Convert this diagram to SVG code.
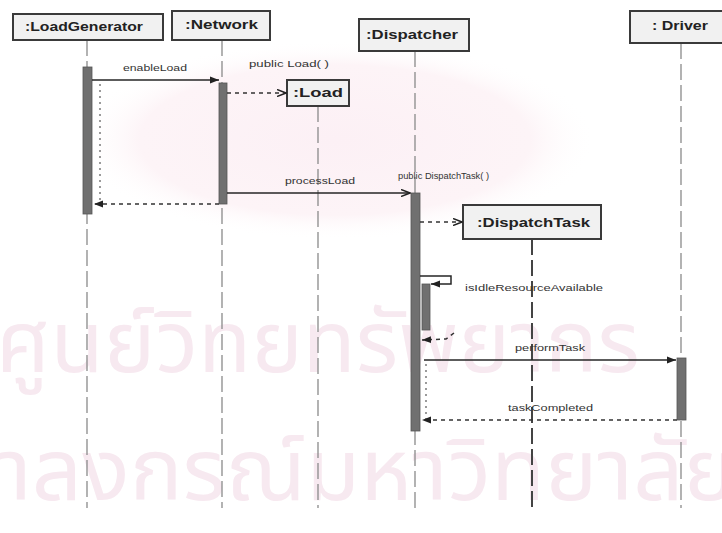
<svg xmlns="http://www.w3.org/2000/svg" width="722" height="533" viewBox="0 0 722 533">
  <defs>
    <radialGradient id="emblem" cx="0.5" cy="0.5" r="0.5">
      <stop offset="0" stop-color="#fcf0f5"/>
      <stop offset="0.75" stop-color="#fdf4f7"/>
      <stop offset="1" stop-color="#ffffff" stop-opacity="0"/>
    </radialGradient>
    <marker id="solid" markerWidth="10" markerHeight="8" refX="9" refY="4" orient="auto" markerUnits="userSpaceOnUse">
      <path d="M0,0.5 L9,4 L0,7.5 Z" fill="#222"/>
    </marker>
    <marker id="open" markerWidth="10" markerHeight="8" refX="9" refY="4" orient="auto" markerUnits="userSpaceOnUse">
      <path d="M0,0.5 L9,4 L0,7.5" fill="none" stroke="#222" stroke-width="1.5"/>
    </marker>
  </defs>
  <style>
    .obj rect { fill: #f1f1f1; stroke: #3a3a3a; stroke-width: 2; }
    .obj text { font-family: "Liberation Sans", Arial, sans-serif; font-weight: bold; font-size: 12.5px; fill: #222; }
    .life { stroke: #8a8a8a; stroke-width: 1.3; stroke-dasharray: 16 5; fill: none; }
    .act { fill: #707070; stroke: #555; stroke-width: 0.8; }
    .msg { stroke: #262626; stroke-width: 1.5; fill: none; }
    .ret { stroke: #333; stroke-width: 1.5; stroke-dasharray: 4 4; fill: none; }
    .dot { stroke: #666; stroke-width: 1.3; stroke-dasharray: 2 4; fill: none; }
    .lbl { font-family: "Liberation Sans", Arial, sans-serif; font-size: 9px; fill: #333; }
    .wm { font-family: "Noto Sans Thai", "Noto Sans", "DejaVu Sans", sans-serif; font-size: 86px; fill: #f7e9f0; }
  </style>

  <rect width="722" height="533" fill="#ffffff"/>

  <!-- faint background emblem and lettering -->
  <g id="backdrop">
    <ellipse cx="335" cy="140" rx="260" ry="100" fill="url(#emblem)"/>
    <text class="wm" x="-4" y="372" textLength="644" lengthAdjust="spacingAndGlyphs">ศูนย์วิทยทรัพยากร</text>
    <text class="wm" x="-4" y="500" textLength="740" lengthAdjust="spacingAndGlyphs">าลงกรณ์มหาวิทยาลัย</text>
  </g>

  <!-- lifelines -->
  <g id="lifelines">
    <line class="life" x1="87" y1="40" x2="87" y2="508"/>
    <line class="life" x1="222" y1="40" x2="222" y2="508"/>
    <line class="life" x1="318" y1="106" x2="318" y2="508"/>
    <line class="life" x1="415" y1="51" x2="415" y2="508"/>
    <line class="life" x1="532" y1="239" x2="532" y2="508" style="stroke:#444;stroke-width:2"/>
    <line class="life" x1="681" y1="43" x2="681" y2="508"/>
  </g>

  <!-- objects -->
  <g id="loadGenerator" class="obj">
    <rect x="13" y="14" width="150" height="26"/>
    <text x="25" y="31" textLength="118" lengthAdjust="spacingAndGlyphs">:LoadGenerator</text>
  </g>
  <g id="network" class="obj">
    <rect x="172" y="11" width="98" height="29"/>
    <text x="185" y="29" textLength="73" lengthAdjust="spacingAndGlyphs">:Network</text>
  </g>
  <g id="dispatcher" class="obj">
    <rect x="359" y="19" width="110" height="32"/>
    <text x="366" y="39" textLength="92" lengthAdjust="spacingAndGlyphs">:Dispatcher</text>
  </g>
  <g id="driver" class="obj">
    <rect x="630" y="11" width="96" height="32"/>
    <text x="652" y="30" textLength="56" lengthAdjust="spacingAndGlyphs">: Driver</text>
  </g>
  <g id="load" class="obj">
    <rect x="287" y="80" width="62" height="26"/>
    <text x="293" y="97" textLength="50" lengthAdjust="spacingAndGlyphs">:Load</text>
  </g>
  <g id="dispatchTask" class="obj">
    <rect x="463" y="205" width="138" height="34"/>
    <text x="477" y="227" textLength="113" lengthAdjust="spacingAndGlyphs">:DispatchTask</text>
  </g>

  <!-- activations -->
  <g id="activations">
    <rect class="act" x="83" y="67" width="9" height="147"/>
    <rect class="act" x="219" y="83" width="8" height="121"/>
    <rect class="act" x="411" y="193" width="9" height="238"/>
    <rect class="act" x="422" y="284" width="8" height="46"/>
    <rect class="act" x="677" y="358" width="9" height="62"/>
  </g>

  <!-- messages -->
  <g id="connectors">
    <line class="msg" x1="92" y1="80" x2="219" y2="80" marker-end="url(#solid)"/>
    <line class="ret" x1="227" y1="93" x2="286" y2="93" marker-end="url(#open)"/>
    <polyline class="dot" points="100,84 100,204"/>
    <line class="ret" x1="219" y1="204" x2="94" y2="204" marker-end="url(#solid)"/>
    <line class="msg" x1="227" y1="193" x2="410" y2="193" marker-end="url(#open)"/>
    <line class="ret" x1="420" y1="222" x2="462" y2="222" marker-end="url(#open)"/>
    <polyline class="msg" points="420,276 451,276 451,284 431,284" marker-end="url(#solid)"/>
    <polyline class="ret" points="454,333 446,339 422,340" marker-end="url(#solid)"/>
    <line class="msg" x1="424" y1="360" x2="676" y2="360" marker-end="url(#solid)"/>
    <polyline class="dot" points="426,364 426,419"/>
    <line class="ret" x1="677" y1="420" x2="422" y2="420" marker-end="url(#solid)"/>
  </g>

  <!-- message labels -->
  <g id="labels">
    <text class="lbl" x="123" y="71" textLength="64" lengthAdjust="spacingAndGlyphs">enableLoad</text>
    <text class="lbl" x="249" y="67" textLength="80" lengthAdjust="spacingAndGlyphs">public Load( )</text>
    <text class="lbl" x="285" y="184" textLength="70" lengthAdjust="spacingAndGlyphs">processLoad</text>
    <text class="lbl" x="398" y="179" textLength="91" lengthAdjust="spacingAndGlyphs">public DispatchTask( )</text>
    <text class="lbl" x="465" y="291" textLength="138" lengthAdjust="spacingAndGlyphs">isIdleResourceAvailable</text>
    <text class="lbl" x="515" y="351" textLength="70" lengthAdjust="spacingAndGlyphs">performTask</text>
    <text class="lbl" x="508" y="411" textLength="85" lengthAdjust="spacingAndGlyphs">taskCompleted</text>
  </g>
</svg>
